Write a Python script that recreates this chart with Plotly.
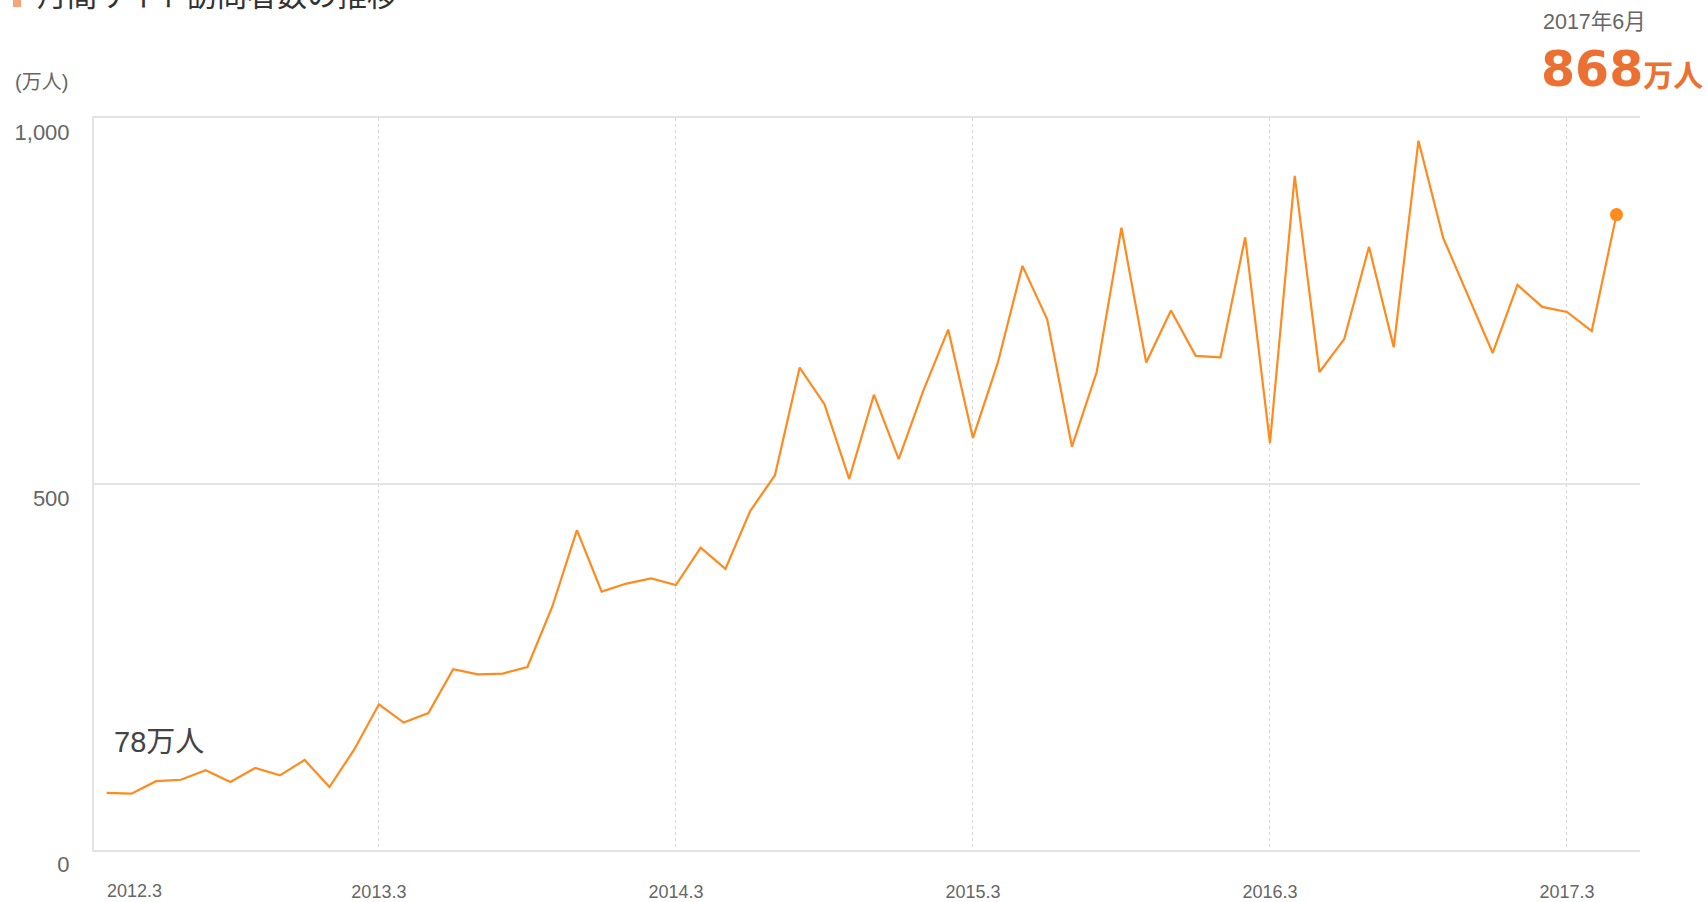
import plotly.graph_objects as go
import pandas as pd

# ---- data ----
months = pd.period_range("2012-04", "2017-05", freq="M").strftime("%Y-%m").tolist()
visitors = [78, 77, 94, 96, 109, 93, 112, 102, 123, 86,
            137, 199, 174, 187, 247, 240, 241, 250, 332, 437,
            353, 364, 371, 362, 413, 384, 463, 512, 659, 609,
            507, 622, 534, 628, 711, 563, 665, 798, 725, 551,
            653, 850, 666, 737, 675, 673, 837, 556, 921, 653,
            698, 824, 687, 969, 836, 758, 679, 772, 742, 735,
            709, 868]
tick_months = ["2013-03", "2014-03", "2015-03", "2016-03", "2017-03"]
tick_labels = ["2013.3", "2014.3", "2015.3", "2016.3", "2017.3"]
y_ticks = [0, 500, 1000]
y_tick_labels = ["0", "500", "1,000"]

FONT = "Liberation Sans, 'Noto Sans CJK JP', sans-serif"
CJK = "'Noto Sans CJK JP', Liberation Sans, sans-serif"
LINE = "#FF8A1E"
ACCENT = "#EC7032"
GRID = "#e3e3e3"

fig = go.Figure()
fig.add_trace(go.Scatter(x=months, y=visitors, mode="lines",
                         line=dict(color=LINE, width=2.2), hoverinfo="x+y",
                         showlegend=False))
fig.add_trace(go.Scatter(x=[months[-1]], y=[visitors[-1]], mode="markers",
                         marker=dict(color=LINE, size=13), showlegend=False))

fig.update_layout(
    width=1708, height=902,
    margin=dict(l=94, r=68, t=118, b=52, autoexpand=False),
    paper_bgcolor="white", plot_bgcolor="white",
    font=dict(family=FONT, color="#666"),
    xaxis=dict(type="category", range=[-0.51, 61.95], automargin=False,
               tickvals=tick_months, ticktext=tick_labels,
               tickfont=dict(size=18, color="#666"),
               showgrid=True, gridcolor="#d6d6d6", gridwidth=1, griddash="dot",
               showline=True, linecolor=GRID, linewidth=2, mirror=True,
               ticks="", ticklabelstandoff=24, zeroline=False),
    yaxis=dict(range=[0, 1000], tickvals=y_ticks, ticktext=y_tick_labels,
               automargin=False,
               tickfont=dict(size=22, color="#666"),
               showgrid=True, gridcolor=GRID, gridwidth=2,
               showline=True, linecolor=GRID, linewidth=2,
               ticks="", ticklabelstandoff=18, ticklabelshift=14,
               zeroline=False),
)

def px_x(p):
    return (p - 94) / 1546

def px_y(p):
    return (850 - p) / 732

annos = [
    dict(text="月間サイト訪問者数の推移", x=px_x(35), y=px_y(-7), xanchor="left", yanchor="middle",
         font=dict(size=30, color="#333", family=CJK)),
    dict(text="(万人)", x=px_x(13), y=px_y(82), xanchor="left", yanchor="middle",
         font=dict(size=20, color="#666", family=FONT)),
    dict(text="2017年6月", x=px_x(1648), y=px_y(22), xanchor="right", yanchor="middle",
         font=dict(size=21.5, color="#666", family=FONT)),
    dict(text="<b>868</b><span style='font-family:\"Noto Sans CJK JP\";font-size:30px;font-weight:bold'>万人</span>",
         x=px_x(1705), y=px_y(69), xanchor="right", yanchor="middle",
         font=dict(size=49, color=ACCENT, family="DejaVu Sans")),
    dict(text="78万人", x=px_x(112), y=px_y(742), xanchor="left", yanchor="middle",
         font=dict(size=29, color="#444", family=FONT)),
    dict(text="2012.3", x=px_x(134), y=px_y(891), xanchor="center", yanchor="middle",
         font=dict(size=18, color="#666", family=FONT)),
]
for a in annos:
    a.update(xref="paper", yref="paper", showarrow=False)
    fig.add_annotation(**a)

fig.add_shape(type="rect", xref="paper", yref="paper",
              x0=px_x(13), x1=px_x(21), y0=px_y(7), y1=px_y(-8),
              fillcolor="#F4A57A", line=dict(width=0))

fig.write_html("out.html", config={"displayModeBar": False},
               post_script="document.body.style.margin='0';")
